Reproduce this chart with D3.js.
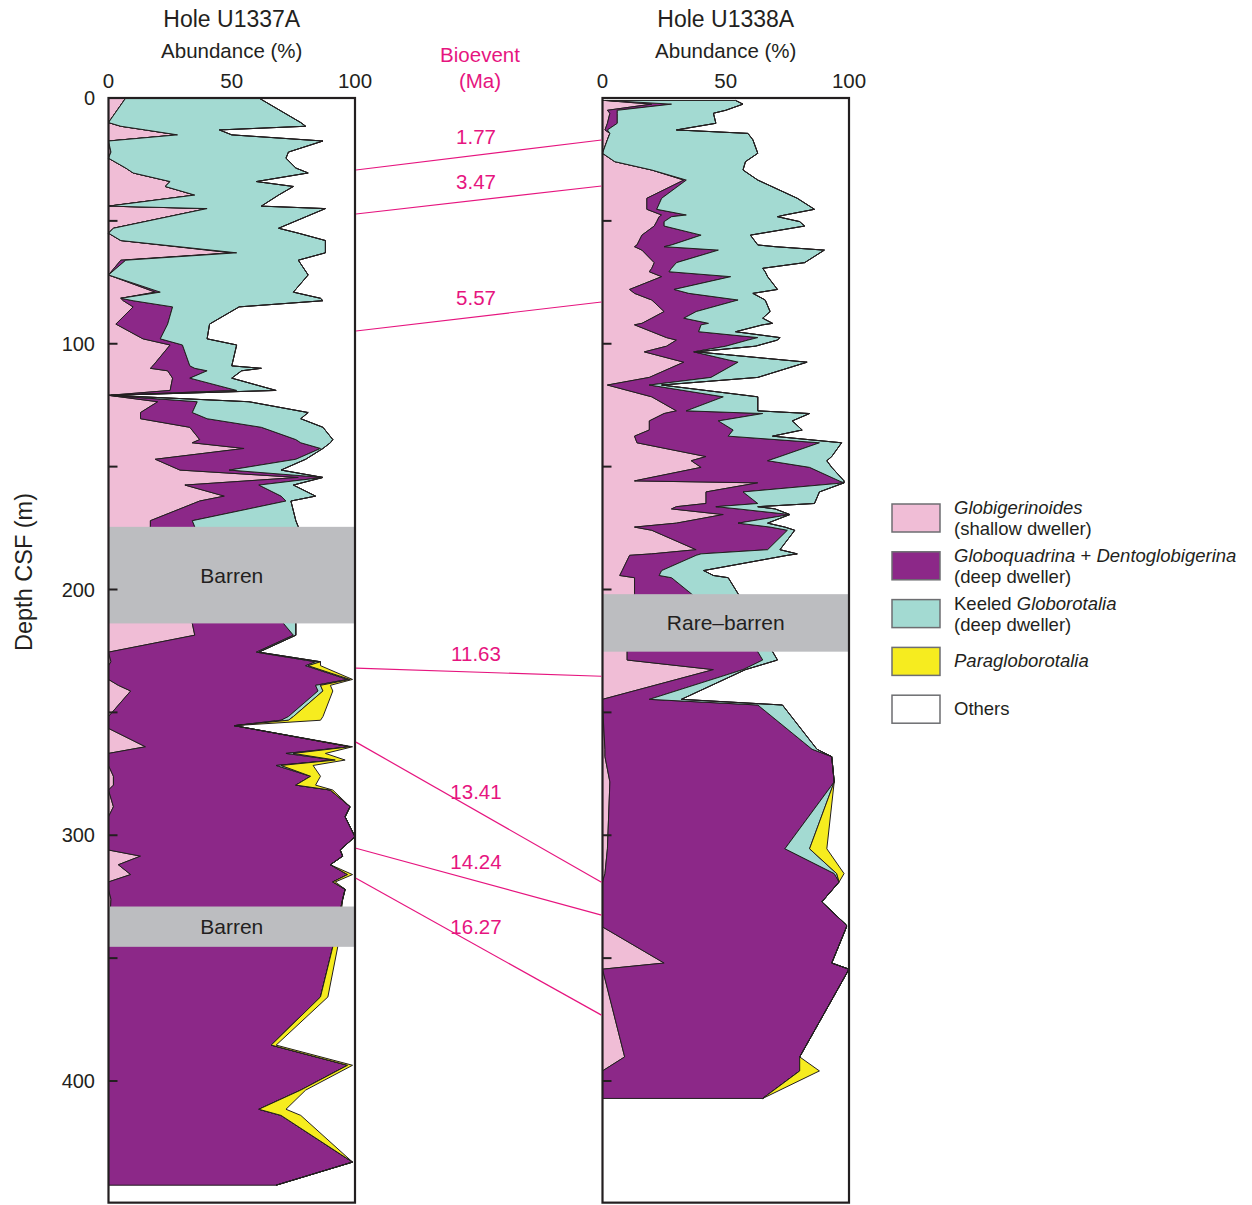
<!DOCTYPE html>
<html><head><meta charset="utf-8">
<script src="https://cdn.jsdelivr.net/npm/d3@7"></script>
<style>
body{margin:0;background:#fff}
text{font-family:"Liberation Sans",Arial,Helvetica,sans-serif;fill:#231f20}
</style>
</head><body>
<svg id="chart" width="1252" height="1205"></svg>
<script>
// ---------- DATA: Hole U1337A ----------
const depthA = [0,10,11.5,13,15,17.5,22,24.5,28.5,30.5,
  34,36,39.5,44,45,53,55,58,63,66,
  72,79,81.5,82.5,85,92,98,100.5,109,110,
  111,114,119,121,123.6,128,130.5,134,139,140.3,
  142.6,147,151.4,154.4,157.5,162,164,172,174.5,213.8,
  218.6,225.5,229.4,231,236.6,239,241.3,251.7,253.2,255.4,
  256.5,264,266.7,269.4,271.6,276,279.6,281.6,288.4,292.5,
  300.6,306,308.5,312,316,319,322,326,345.4,365.8,
  385.4,393.6,403.7,411.5,414,433,442.4];
const shallowA = [7,0,5,15,28,0,1,0,7,10,
  25,23,35,0,40,2,0,5,50,5,
  0,19,5,6,10,3,14,25,18,17,
  24,26,25,0,20,13,13,33,37,34,
  55,19,29,77,31,47,37,17,17,34,
  35,0,1,0,0,4,9,0,0,0,
  0,15,0,0,0,2,2,0,2,0,
  0,0,13,4,9,0,0,1,0,0,
  0,0,0,0,0,0,0];
const deepA = [0,0,0,0,0,0,0,0,0,0,
  0,0,0,0,0,0,0,0,2,2,
  0,2,0,4,16,21,7,5,15,18,
  16,7,27,0,16,21,27,29,39,44,
  31,57,20,10,30,23,35,17,18,37,
  40,60,83,80,97,80,76,73,70,51,
  57,83,72,92,68,80,74,90,96,96,
  100,94,82,86,88,91,96,94,91,86,
  66,97,78,61,70,99,68];
const keeledA = [54,78,75,30,22,87,72,72,69,71,
  35,52,34,62,48,67,77,83,36,70,
  81,54,81,77,27,17,19,22,17,27,
  14,17,16,1,21,47,38,25,15,12,
  1,4,21,0,14,14,2,42,42,5,
  1,1,2,1,1,2,2,2,3,0,
  0,0,3,0,2,0,0,0,0,0,
  0,0,0,0,0,0,0,0,0,0,
  0,0,0,0,0,0,0];
const paraA = [0,0,0,0,0,0,0,0,0,0,
  0,0,0,0,0,0,0,0,0,0,
  0,0,0,0,0,0,0,0,0,0,
  0,0,0,0,0,0,0,0,0,0,
  0,0,0,0,0,0,0,0,0,0,
  0,0,0,5,1,4,4,12,13,0,
  0,1,13,4,13,4,8,1,0,0,
  0,0,0,0,2,1,0,0,2,3,
  2,2,2,11,8,0,0];
const barrenA = [[174.5,213.8,"Barren"],[329,345.4,"Barren"]];

// ---------- DATA: Hole U1338A ----------
const depthB = [1,2.5,5,6.2,10.3,13,14.4,17,22.5,25.9,
  29.3,33.4,40.8,45.3,47.6,48.3,50.3,52.1,55.8,59.8,
  60.5,61.9,67,69.3,70.7,72.7,77.9,79.5,82.2,86.9,
  89.6,91.7,92.3,95.1,97.5,98.5,101,103.3,107.5,113.7,
  116.8,121.6,127.3,128.4,131.4,135.1,137.6,140.3,145.9,147.6,
  150.3,155.8,156.6,160.3,165,166.3,167.2,169.5,173,174.6,
  175.9,183.8,185.5,186.1,192.3,194.3,195.2,201.7,225.3,228.7,
  232.6,244.7,247,265,268,278.3,305.5,315.6,319,327.1,
  336.6,337.3,352,354.5,390.2,395.9,407.1];
const shallowB = [1,20,2,3,2,1,3,2,0,5,
  20,33,18,18,24,23,22,21,16,14,
  13,16,21,20,19,24,11,13,20,25,
  20,16,13,20,26,30,26,17,33,19,
  2,20,30,25,19,19,13,14,42,36,
  40,13,63,42,42,30,28,49,30,13,
  20,38,20,11,8,7,13,13,10,10,
  45,0,0,1,1,3,2,1,0,0,
  0,0,25,0,9,0,0];
const deepB = [1,8,4,3,4,1,0,0,0,0,
  0,1,6,4,10,5,3,4,24,14,
  12,31,9,8,8,28,18,22,35,13,
  13,27,27,19,37,29,24,20,22,25,
  17,29,4,40,28,34,38,74,30,31,
  44,83,35,15,21,16,27,27,25,55,
  55,29,20,27,16,16,15,23,53,55,
  12,19,63,84,92,91,72,93,96,89,
  99,99,68,100,71,80,65];
const keeledB = [52,29,44,39,40,28,56,59,63,53,
  37,29,55,64,40,43,55,57,20,35,
  45,43,52,37,39,15,42,26,11,30,
  32,26,25,15,9,12,12,1,28,19,
  5,14,29,19,30,28,18,9,21,24,
  9,2,0,31,23,17,15,0,12,6,
  3,5,39,37,17,22,23,19,6,6,
  1,13,10,2,0,0,10,1,0,0,
  0,0,0,0,0,0,0];
const paraB = [0,0,0,0,0,0,0,0,0,0,
  0,0,0,0,0,0,0,0,0,0,
  0,0,0,0,0,0,0,0,0,0,
  0,0,0,0,0,0,0,0,0,0,
  0,0,0,0,0,0,0,0,0,0,
  0,0,0,0,0,0,0,0,0,0,
  0,0,0,0,0,0,0,0,0,0,
  0,0,0,0,0,0,7,3,0,0,
  0,0,0,0,0,8,0];
const barrenB = [[201.9,225.3,"Rare\u2013barren"]];

// ---------- Bioevents ----------
const bioAges   = ["1.77","3.47","5.57","11.63","13.41","14.24","16.27"];
const bioDepthA = [29.3,47.2,94.8,232,262.1,305.3,317.5];
const bioDepthB = [17.1,35.8,83,235.3,319.1,332.5,373.2];

// ---------- Axis ticks ----------
const abundTicks = [0,50,100];
const depthTicks = [0,100,200,300,400];
const depthMinorTicks = [50,100,150,200,250,300,350,400];

// ---------- Legend ----------
const legendColors = ["#f0bdd6","#8c2888","#a3dad2","#f6ec1f","#ffffff"];
const legendLines = [
  [[["Globigerinoides",true]],[["(shallow dweller)",false]]],
  [[["Globoquadrina",true],[" + ",false],["Dentoglobigerina",true]],[["(deep dweller)",false]]],
  [[["Keeled ",false],["Globorotalia",true]],[["(deep dweller)",false]]],
  [[["Paragloborotalia",true]]],
  [[["Others",false]]]
];

// ---------- DRAW ----------
const svg = d3.select("#chart");
const ink = "#231f20", magenta = "#e6157f", grey = "#bcbdc0";
const keys = ["shallow","deep","keeled","para"];
const colors = {shallow:"#f0bdd6",deep:"#8c2888",keeled:"#a3dad2",para:"#f6ec1f"};

const y = d3.scaleLinear().domain([0,400]).range([98,1081]);
const xA = d3.scaleLinear().domain([0,100]).range([108.5,355]);
const xB = d3.scaleLinear().domain([0,100]).range([602.5,849]);
const bottomDepth = 449.5;

function drawHole(depths, s, d, k, p, x, barren){
  const rows = depths.map((dep,i)=>({depth:dep, shallow:s[i], deep:d[i], keeled:k[i], para:p[i]}));
  const stack = d3.stack().keys(keys)(rows);
  const area = d3.area().y(r=>y(r.data.depth)).x0(r=>x(r[0])).x1(r=>x(r[1]));
  const g = svg.append("g");
  g.selectAll("path").data(stack).join("path")
    .attr("d", area)
    .attr("fill", l=>colors[l.key])
    .attr("stroke", ink).attr("stroke-width",1).attr("stroke-linejoin","round");
  barren.forEach(b=>{
    g.append("rect").attr("x",x(0)).attr("width",x(100)-x(0))
      .attr("y",y(b[0])).attr("height",y(b[1])-y(b[0])).attr("fill",grey);
    g.append("text").attr("x",(x(0)+x(100))/2).attr("y",(y(b[0])+y(b[1]))/2)
      .attr("text-anchor","middle").attr("dominant-baseline","central")
      .attr("font-size",21).text(b[2]);
  });
  g.append("rect").attr("x",x(0)).attr("y",y(0)).attr("width",x(100)-x(0))
    .attr("height",y(bottomDepth)-y(0)).attr("fill","none")
    .attr("stroke",ink).attr("stroke-width",2.2);
  g.selectAll("line.tk").data(depthMinorTicks).join("line")
    .attr("x1",x(0)).attr("x2",x(0)+9).attr("y1",v=>y(v)).attr("y2",v=>y(v))
    .attr("stroke",ink).attr("stroke-width",2);
  g.selectAll("text.ab").data(abundTicks).join("text")
    .attr("x",v=>x(v)).attr("y",80).attr("text-anchor","middle")
    .attr("dominant-baseline","central").attr("font-size",20.5).text(v=>v);
}

drawHole(depthA, shallowA, deepA, keeledA, paraA, xA, barrenA);
drawHole(depthB, shallowB, deepB, keeledB, paraB, xB, barrenB);

svg.selectAll("text.dl").data(depthTicks).join("text")
  .attr("x",95).attr("y",v=>y(v)).attr("text-anchor","end")
  .attr("dominant-baseline","central").attr("font-size",20).text(v=>v);
svg.append("text").attr("transform","translate(24,572) rotate(-90)")
  .attr("text-anchor","middle").attr("dominant-baseline","central")
  .attr("font-size",23.5).text("Depth CSF (m)");

[[xA,"Hole U1337A"],[xB,"Hole U1338A"]].forEach(([x,t])=>{
  const cx=(x(0)+x(100))/2;
  svg.append("text").attr("x",cx).attr("y",19).attr("text-anchor","middle")
    .attr("dominant-baseline","central").attr("font-size",23).text(t);
  svg.append("text").attr("x",cx).attr("y",50).attr("text-anchor","middle")
    .attr("dominant-baseline","central").attr("font-size",20.5).text("Abundance (%)");
});
svg.append("text").attr("x",480).attr("y",54).attr("text-anchor","middle")
  .attr("dominant-baseline","central").attr("font-size",20.5).style("fill",magenta).text("Bioevent");
svg.append("text").attr("x",480).attr("y",80).attr("text-anchor","middle")
  .attr("dominant-baseline","central").attr("font-size",20.5).style("fill",magenta).text("(Ma)");

bioAges.forEach((age,i)=>{
  const x1=xA(100)+1, y1=y(bioDepthA[i]), x2=xB(0)-1, y2=y(bioDepthB[i]);
  svg.append("line").attr("x1",x1).attr("y1",y1).attr("x2",x2).attr("y2",y2)
    .attr("stroke",magenta).attr("stroke-width",1.2);
  const lx=476, ly=y1+(y2-y1)*(lx-x1)/(x2-x1);
  svg.append("text").attr("x",lx).attr("y",ly-19).attr("text-anchor","middle")
    .attr("dominant-baseline","central").attr("font-size",20.5).style("fill",magenta).text(age);
});

legendColors.forEach((c,i)=>{
  const top = 504 + i*47.8;
  svg.append("rect").attr("x",892).attr("y",top).attr("width",48).attr("height",28)
    .attr("fill",c).attr("stroke","#6d6e71").attr("stroke-width",1.5);
  const lines = legendLines[i];
  lines.forEach((parts,j)=>{
    const ty = lines.length===2 ? top+3+j*21 : top+13;
    const t = svg.append("text").attr("x",954).attr("y",ty)
      .attr("dominant-baseline","central").attr("font-size",18.5);
    parts.forEach(([s,it])=>t.append("tspan").attr("font-style",it?"italic":"normal").text(s));
  });
});
</script>
</body></html>
